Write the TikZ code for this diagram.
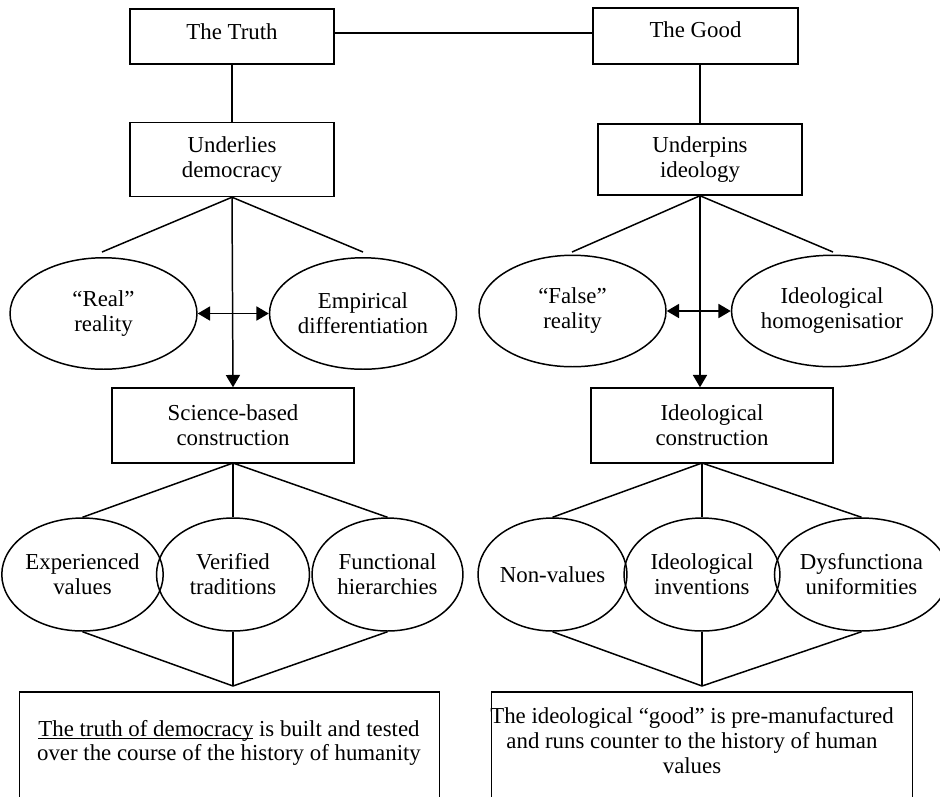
\documentclass[tikz,border=0pt]{standalone}
\usepackage{fontspec}
\setmainfont{Liberation Serif}
\usetikzlibrary{arrows.meta, shapes.geometric, positioning}

\begin{document}
\begin{tikzpicture}[x=0.02cm, y=-0.02cm, line width=0.85pt,
          font=\fontsize{13}{14.2}\selectfont,
          box/.style={draw, rectangle, minimum width=4.08cm, minimum height=1.46cm,
                      align=center, inner sep=0pt},
          oval/.style={draw, ellipse, minimum width=3.74cm, minimum height=2.23cm,
                       align=center, inner sep=0pt},
          small/.style={oval, minimum width=3.02cm, minimum height=2.26cm},
          txt/.style={align=center, inner sep=0pt},
          >={Triangle[length=7pt, width=8pt]}]
        \useasboundingbox (0,0) rectangle (940,796);
        \clip (0,0) rectangle (940,796);
        % top row
        \node[box, minimum height=1.1cm, text height=0.6cm, text depth=0.5cm] (truth) at (232,36.5) {The Truth};
        \node[box, minimum width=4.1cm, minimum height=1.12cm, text height=0.58cm, text depth=0.54cm] (good) at (695.5,36) {The Good};
        \node[box, below=1.14cm of truth, minimum height=1.48cm] (udem) {Underlies\\democracy};
        \node[box, minimum height=1.42cm] (uideo) at (700,159.5) {Underpins\\ideology};
        % realities
        \node[oval] (real)  at (103.5,313.5) {“Real”\\reality};
        \node[oval] (emp)   at (363,313.5)   {Empirical\\differentiation};
        \node[oval] (false) at (572.5,311)   {“False”\\reality};
        \node[oval] (homog) at (832,311)     {Ideological\\homogenisatior};
        % constructions
        \node[box, minimum width=4.84cm, minimum height=1.5cm] (sci)  at (233,425.5) {Science-based\\construction};
        \node[box, minimum width=4.84cm, minimum height=1.5cm] (ideo) at (712,425.5) {Ideological\\construction};
        % values
        \node[small, minimum width=2.98cm] (exp) at (82.5,574.5)  {Experienced\\values};
        \node[small, minimum width=3.06cm] (ver) at (233,574.5)   {Verified\\traditions};
        \node[small]                       (fun) at (387.5,574.5) {Functional\\hierarchies};
        \node[small, minimum width=2.98cm] (non) at (552.5,574.5) {Non-values};
        \node[small, minimum width=3.12cm] (inv) at (702,574.5)   {Ideological\\inventions};
        \node[small, minimum width=3.06cm] (dys) at (861.5,574.5) {Dysfunctiona\\uniformities};
        % conclusions
        \node[draw, anchor=north west, minimum width=8.4cm, minimum height=2.3cm, inner sep=0pt] (tdem) at (19,691) {};
        \node[txt] (tdemt) at (229,743) {\underline{\smash{The truth of democracy}} is built and tested\\over the course of the history of humanity};
        \node[draw, anchor=north west, minimum width=8.42cm, minimum height=2.3cm, inner sep=0pt] (tgood) at (491,691) {};
        \node[txt] (tgoodt) at (692,741) {The ideological “good” is pre-manufactured\\and runs counter to the history of human\\values};
        \coordinate (ul) at (102,252); \coordinate (ur) at (363,252);
        \coordinate (vl) at (572,252); \coordinate (vr) at (833,252);
        \coordinate (ltop) at (233,463); \coordinate (lapex) at (233,686);
        \coordinate (rtop) at (702,463); \coordinate (rapex) at (702,686);
        \coordinate (link) at (334,33);
        \draw (link) -- (link -| good.west);
        \draw (truth) -- (udem);
        \draw (uideo.north) -- (uideo.north |- good.south);
        \draw (udem.south) -- (ul) (udem.south) -- (ur);
        \draw (uideo.south) -- (vl) (uideo.south) -- (vr);
        \draw[->] (udem.south) -- (sci.north);
        \draw[->] (uideo.south) -- (uideo.south |- ideo.north);
        \draw[<->] (real) -- (emp);
        \draw[<->] (false) -- (homog);
        \foreach \e in {exp, ver, fun} \draw (ltop) -- (\e.north) (\e.south) -- (lapex);
        \foreach \e in {non, inv, dys} \draw (rtop) -- (\e.north) (\e.south) -- (rapex);
      \end{tikzpicture}
\end{document}
